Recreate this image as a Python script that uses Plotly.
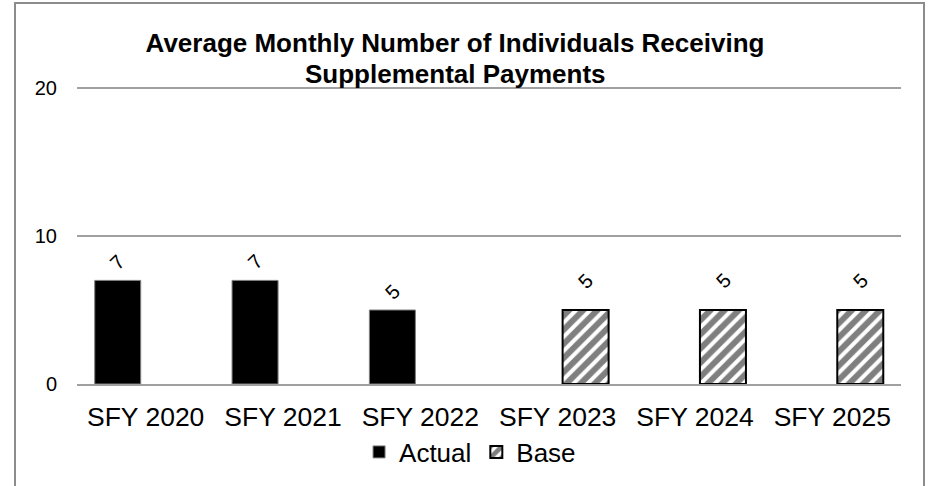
import plotly.graph_objects as go

categories = ["SFY 2020", "SFY 2021", "SFY 2022", "SFY 2023", "SFY 2024", "SFY 2025"]
actual = [7, 7, 5, None, None, None]
base = [None, None, None, 5, 5, 5]
y_ticks = [0, 10, 20]
title_line1 = "Average Monthly Number of Individuals Receiving"
title_line2 = "Supplemental Payments"

FONT = "Liberation Sans, Arial, sans-serif"

# plot area in pixels
L, R, T, B = 77, 901, 81, 384
W, H = 934, 486
PW, PH = R - L, B - T
px_per_unit = (384 - 88) / 20.0
y_top = 20 + (88 - T) / px_per_unit

fig = go.Figure()
fig.add_trace(go.Bar(
    name="Actual", x=categories, y=actual,
    marker=dict(color="black", line=dict(color="#7f7f7f", width=1)),
    width=0.335, offset=-0.371,
))
fig.add_trace(go.Bar(
    name="Base", x=categories, y=base,
    marker=dict(color="white", line=dict(color="black", width=2),
                pattern=dict(shape="/", fgcolor="black", bgcolor="white", size=10, solidity=0.6)),
    width=0.335, offset=0.036,
))

# data labels
for vals, xs, ys in [(actual, -28, 18), (base, 28, 29)]:
    for c, v in zip(categories, vals):
        if v is None:
            continue
        fig.add_annotation(x=c, y=v, text=str(v), showarrow=False, xshift=xs, yshift=ys,
                           textangle=-45, font=dict(family=FONT, size=20, color="black"),
                           xref="x", yref="y")

# title second line
fig.add_annotation(text="<b>" + title_line2 + "</b>", xref="paper", yref="paper",
                   x=(455 - L) / PW, y=(B - 74) / PH, xanchor="center", yanchor="middle",
                   showarrow=False, font=dict(family=FONT, size=26, color="black"))

# outer border
fig.add_shape(type="rect", xref="paper", yref="paper",
              x0=(15 - L) / PW, x1=(924 - L) / PW, y0=-0.6, y1=(B - 3) / PH,
              line=dict(color="#8c8c8c", width=2), fillcolor="rgba(0,0,0,0)", layer="below")

fig.update_layout(
    width=W, height=H,
    margin=dict(l=L, r=W - R, t=T, b=H - B, autoexpand=False),
    paper_bgcolor="white", plot_bgcolor="white",
    title=dict(text=title_line1, x=455 / W, xanchor="center", xref="container",
               y=1 - 43 / H, yanchor="middle", yref="container",
               font=dict(family=FONT, size=26, color="black", weight="bold")),
    font=dict(family=FONT, color="black"),
    barmode="group",
    showlegend=True,
    legend=dict(orientation="h", x=0.477, xanchor="center", y=(B - 452) / PH, yanchor="middle",
                font=dict(family=FONT, size=26, color="black"), itemwidth=30,
                traceorder="normal"),
    xaxis=dict(type="category", categoryarray=categories, showgrid=False,
               showline=True, linecolor="#a0a0a0", linewidth=1.5, automargin=False,
               ticks="outside", ticklen=8, tickcolor="rgba(0,0,0,0)",
               tickfont=dict(family=FONT, size=26.5, color="black")),
    yaxis=dict(range=[0, y_top], tickvals=y_ticks, showgrid=True, gridcolor="#a0a0a0", gridwidth=1.5,
               zeroline=False, showline=False, automargin=False,
               ticks="outside", ticklen=15, tickcolor="rgba(0,0,0,0)",
               tickfont=dict(family=FONT, size=20, color="black")),
)

fig.write_html("out.html", post_script="document.body.style.margin='0';",
               config={"displayModeBar": False})
